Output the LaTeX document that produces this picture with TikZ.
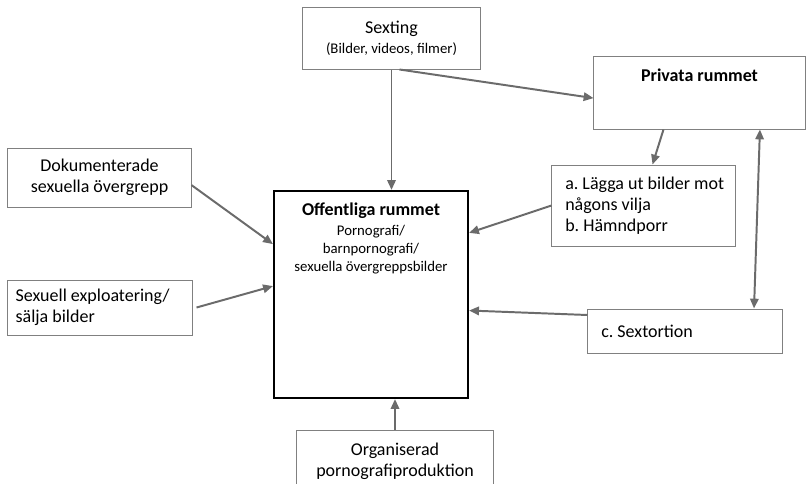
\documentclass[tikz,border=0pt]{standalone}
\usepackage{fontspec}
\setmainfont{Carlito}
\frenchspacing
\usetikzlibrary{positioning,arrows.meta}
\tikzset{box node/.style={rectangle,draw=black!50,line width=0.7pt,inner sep=0pt,font=\fontsize{12.8}{15}\selectfont},
main node/.style={rectangle,draw=black,line width=1.5pt,inner sep=0pt},
big text/.style={font=\fontsize{12.8}{15}\selectfont},
title text/.style={font=\fontsize{12.8}{15}\selectfont\bfseries},
small text/.style={font=\fontsize{10.5}{13}\selectfont},
link/.style={draw=black!58,line width=1.4pt,-{Triangle[length=7pt,width=6pt]}},
twoway/.style={draw=black!58,line width=1.4pt,{Triangle[length=7pt,width=6pt]}-{Triangle[length=7pt,width=6pt]}},
}

\begin{document}
\begin{tikzpicture}[x=0.025cm,y=-0.025cm]
\clip (0,0) rectangle (806,483);

% boxes
\node[box node,minimum width=4.425cm,minimum height=1.55cm,align=center] (sexting) at (391.5,38)
	{Sexting\\[-1pt]{\fontsize{10.5}{12}\selectfont (Bilder, videos, filmer)}};
\node[box node,minimum width=5.275cm,minimum height=1.825cm] (privata) at (699.5,92.5) {};
\node[title text] (privataT) [below=0.2cm of privata.north] {Privata rummet};
\node[box node,minimum width=4.575cm,minimum height=2.025cm] (handling) at (643.5,205.5) {};
\node[big text,align=left] (handlingT) [right=0.22cm of handling.west]
	{a. Lägga ut bilder mot\\ någons vilja\\ b. Hämndporr};
\node[main node,minimum width=4.85cm,minimum height=5.175cm] (offentliga) at (371,294.5) {};
\node[small text,align=center] (offentligaT) [below=0.2cm of offentliga.north]
	{{\fontsize{12.8}{14}\selectfont\bfseries Offentliga rummet}\\[1pt] Pornografi/\\ barnpornografi/\\ sexuella övergreppsbilder};
\node[box node,minimum width=4.575cm,minimum height=1.475cm,align=center] (dokumenterade) at (99.5,177.5)
	{Dokumenterade\\ sexuella övergrepp};
\node[box node,minimum width=4.6cm,minimum height=1.375cm] (sexuell) at (100,307.5) {};
\node[big text,align=left] (sexuellT) [right=0.08cm of sexuell.west]
	{Sexuell exploatering/\\ sälja bilder};
\node[box node,minimum width=4.85cm,minimum height=1.1cm] (sextortion) at (685,331) {};
\node[big text] (sextortionT) [right=0.22cm of sextortion.west] {c. Sextortion};
\node[box node,minimum width=4.9cm,minimum height=1.75cm] (organiserad) at (395,465) {};
\node[big text,align=center] (organiseradT) [below=0.22cm of organiserad.north]
	{Organiserad\\ pornografiproduktion};

% arrows
\path[link] (sexting.south) -- (sexting.south |- offentliga.north);
\path[link] ([xshift=0.2cm]sexting.south) -- ([yshift=-0.14cm]privata.west);
\path[link] ([xshift=-0.9cm]privata.south) -- ([xshift=0.225cm]handling.north);
\path[link] (handling.west) -- ([yshift=1.54cm]offentliga.east);
\path[link] ([yshift=0.4cm]sextortion.west) -- ([yshift=-0.4cm]offentliga.east);
\path[link] ([yshift=-0.19cm]dokumenterade.east) -- ([yshift=1.26cm]offentliga.west);
\path[link] ([xshift=0.1cm]sexuell.east) -- ([yshift=0.21cm]offentliga.west);
\path[link] (organiserad.north) -- (organiserad.north |- offentliga.south);
\path[twoway] ([xshift=1.725cm]sextortion.north) -- ([xshift=1.51cm]privata.south);
\end{tikzpicture}
\end{document}
